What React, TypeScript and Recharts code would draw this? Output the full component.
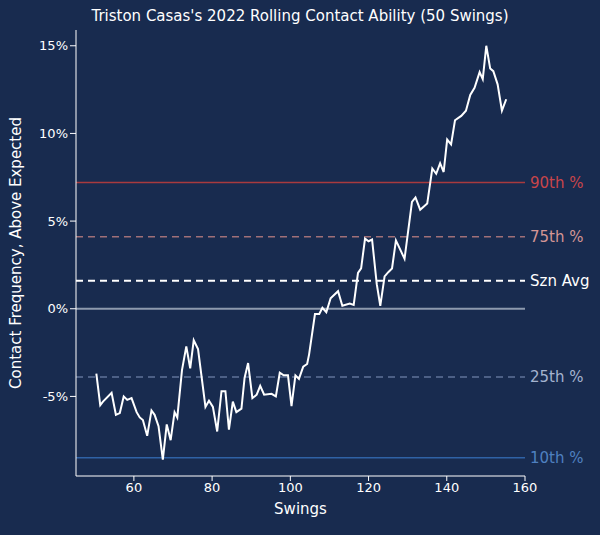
import { CartesianGrid, Line, LineChart, ReferenceLine, XAxis, YAxis } from 'recharts';

const swings = [
  50.4, 51.4, 52.1, 54.3, 55.4, 56.4, 57.4, 58.3, 59.4, 60.7, 61.5, 62.3, 63.4, 64.5, 65.3, 66.3,
  67.4, 68.4, 69.4, 70.4, 71.1, 72.3, 73.4, 74.4, 75.3, 76.4, 78.3, 79.2, 80.2, 81.3, 82.4, 83.4,
  84.3, 85.3, 86.2, 87.5, 88.3, 89.2, 90.3, 91.4, 92.3, 93.3, 95.2, 96.3, 97.3, 98.3, 99.4, 100.3,
  101.3, 102.2, 103.3, 104.3, 104.8, 106.3, 107.4, 108.2, 109.2, 110.3, 112.2, 113.3, 115.2, 116.2,
  117.3, 118.1, 119.1, 120, 120.9, 122.1, 123, 124.1, 125.1, 126, 127, 129.2, 131.1, 132, 133.2,
  135, 136.3, 137.3, 138.3, 139.2, 140.1, 141.1, 142.1, 143.7, 144.9, 146, 147.1, 148.4, 149.2,
  150.1, 151.1, 151.9, 153, 154.1, 155.2,
];
const contact = [
  -3.7, -5.5, -5.3, -4.8, -6.05, -5.95, -5.0, -5.2, -5.1, -5.9, -6.2, -6.35, -7.25, -5.8, -6.05, -6.7,
  -8.6, -6.6, -7.5, -5.9, -6.2, -3.5, -2.15, -3.4, -1.8, -2.3, -5.6, -5.25, -5.6, -7.0, -4.7, -4.7,
  -6.9, -5.3, -5.9, -5.7, -3.95, -3.1, -5.1, -4.9, -4.4, -4.9, -4.85, -5.0, -3.65, -3.8, -3.8, -5.55,
  -3.8, -4.0, -3.3, -3.15, -2.6, -0.3, -0.3, 0.05, -0.2, 0.6, 1.0, 0.17, 0.3, 0.22,
  2.05, 2.3, 4.0, 3.85, 3.95, 1.4, 0.17, 1.85, 2.1, 2.3, 3.9, 2.85, 6.1, 6.35, 5.65,
  6.0, 8.0, 7.7, 8.3, 7.8, 9.65, 9.37, 10.75, 11.0, 11.3, 12.2, 12.6, 13.5, 13.1,
  15.0, 13.7, 13.55, 12.8, 11.3, 11.95,
];
const xTicks = [60, 80, 100, 120, 140, 160];
const yTicks = [-5, 0, 5, 10, 15];
const benchmarks = [
  { name: '90th %', value: 7.2, stroke: '#a83a3e', text: '#c8454a', dash: undefined },
  { name: '75th %', value: 4.1, stroke: '#a07078', text: '#d49595', dash: '7 5' },
  { name: 'Szn Avg', value: 1.6, stroke: '#ffffff', text: '#ffffff', dash: '7 5' },
  { name: '25th %', value: -3.9, stroke: '#5f7399', text: '#a4b3cf', dash: '7 5' },
  { name: '10th %', value: -8.5, stroke: '#2f62a6', text: '#4f80c0', dash: undefined },
];

const data = swings.map((s, i) => ({ swing: s, contact: contact[i] }));
const bg = '#182b4f';
const font = 'DejaVu Sans, sans-serif';

export default function App() {
  return (
    <div style={{ position: 'fixed', inset: 0, background: bg, fontFamily: font }}>
      <div
        style={{
          position: 'absolute',
          top: 7,
          left: 0,
          width: 600,
          textAlign: 'center',
          color: '#ffffff',
          fontSize: 15,
        }}
      >
        Triston Casas's 2022 Rolling Contact Ability (50 Swings)
      </div>
      <LineChart
        width={600}
        height={535}
        data={data}
        margin={{ top: 30, right: 75, left: 16, bottom: 19 }}
      >
        <CartesianGrid stroke="none" />
        <XAxis
          dataKey="swing"
          type="number"
          domain={[45.2, 160]}
          ticks={xTicks}
          allowDataOverflow
          stroke="#ffffff"
          tick={{ fill: '#ffffff', fontSize: 13 }}
          tickSize={5}
          height={40}
          label={{ value: 'Swings', position: 'insideBottom', offset: 2, fill: '#ffffff', fontSize: 15 }}
        />
        <YAxis
          type="number"
          domain={[-9.54, 15.9]}
          ticks={yTicks}
          allowDataOverflow
          stroke="#ffffff"
          tick={{ fill: '#ffffff', fontSize: 13 }}
          tickFormatter={(v) => `${v}%`}
          width={60}
          label={{
            value: 'Contact Frequency, Above Expected',
            angle: -90,
            position: 'insideLeft',
            offset: 0,
            style: { textAnchor: 'middle' },
            fill: '#ffffff',
            fontSize: 15,
          }}
        />
        <ReferenceLine y={0} stroke="#8d9aae" strokeWidth={2} />
        {benchmarks.map((b) => (
          <ReferenceLine
            key={b.name}
            y={b.value}
            stroke={b.stroke}
            strokeWidth={b.name === 'Szn Avg' ? 2 : 1.5}
            strokeDasharray={b.dash}
            label={{ value: b.name, position: 'right', fill: b.text, fontSize: 15 }}
          />
        ))}
        <Line
          dataKey="contact"
          type="linear"
          stroke="#ffffff"
          strokeWidth={2}
          dot={false}
          isAnimationActive={false}
        />
      </LineChart>
    </div>
  );
}
